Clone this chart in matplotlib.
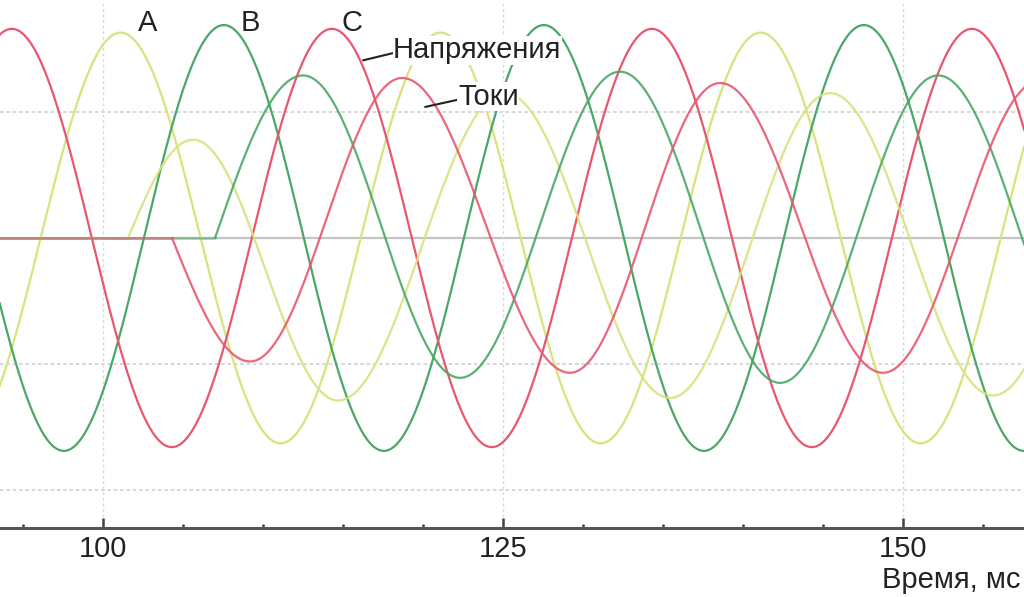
import numpy as np
import matplotlib
matplotlib.use("Agg")
import matplotlib.pyplot as plt

plt.rcParams['font.family'] = ['Liberation Sans', 'DejaVu Sans']

# ---- data ----
phases = ['A', 'B', 'C']
colors = ['#d9e27c', '#4aa866', '#e8566f']
period_ms = 20.0
# voltage: amplitude (grid units) and time of a peak (ms)
volt_amp = [1.63, 1.69, 1.66]
volt_peak_t = [101.1, 107.55, 94.3]
# current: switch-on time and successive extrema (time ms, value)
cur_onset = [101.56, 107.0, 104.31]
cur_ext_t_A = [105.63, 114.69, 125.13, 135.44, 145.44, 155.63, 165.75]
cur_ext_v_A = [0.78, -1.29, 1.15, -1.27, 1.15, -1.25, 1.15]
cur_ext_t_B = [112.5, 122.31, 132.31, 142.31, 152.19, 162.31]
cur_ext_v_B = [1.29, -1.11, 1.32, -1.15, 1.29, -1.15]
cur_ext_t_C = [109.19, 118.69, 129.19, 138.56, 148.75, 158.56]
cur_ext_v_C = [-0.98, 1.27, -1.07, 1.23, -1.07, 1.25]
cur_ext_t = [cur_ext_t_A, cur_ext_t_B, cur_ext_t_C]
cur_ext_v = [cur_ext_v_A, cur_ext_v_B, cur_ext_v_C]

x_ticks_major = [100, 125, 150]
x_label = 'Время, мс'
lbl_volt = 'Напряжения'
lbl_cur = 'Токи'

t = np.linspace(93.5, 157.7, 3000)


def current_trace(tt, onset, et, ev):
    y = np.zeros_like(tt)
    m = (tt >= onset) & (tt < et[0])
    y[m] = ev[0] * np.sin(np.pi / 2 * (tt[m] - onset) / (et[0] - onset))
    for i in range(len(et) - 1):
        t0, t1, v0, v1 = et[i], et[i + 1], ev[i], ev[i + 1]
        m = (tt >= t0) & (tt < t1)
        y[m] = (v0 + v1) / 2 + (v0 - v1) / 2 * np.cos(np.pi * (tt[m] - t0) / (t1 - t0))
    return y


fig = plt.figure(figsize=(10.24, 5.97), dpi=100)
ax = fig.add_axes([0, 1 - 528 / 597, 1, 528 / 597])
ax.set_xlim(93.56, 157.56)
ax.set_ylim(-2.302, 1.889)

# grid
for yv in [1, -1, -2]:
    ax.axhline(yv, color='#d4d4d4', lw=1.3, ls=(0, (2, 1.5)), zorder=0)
ax.axhline(0, color='#c4c4c4', lw=1.6, zorder=0)
for xv in x_ticks_major:
    ax.axvline(xv, color='#d8d8d8', lw=1.0, ls=(0, (2, 2)), zorder=0)

for i in range(3):
    v = volt_amp[i] * np.cos(2 * np.pi * (t - volt_peak_t[i]) / period_ms)
    ax.plot(t, v, color=colors[i], lw=1.6, zorder=2)
for i in range(3):
    c = current_trace(t, cur_onset[i], cur_ext_t[i], cur_ext_v[i])
    pre = t <= cur_onset[i]
    post = t >= cur_onset[i]
    ax.plot(t[pre], c[pre], color=colors[i], lw=1.8, alpha=0.55, zorder=2)
    ax.plot(t[post], c[post], color=colors[i], lw=1.6, alpha=0.9, zorder=2)

# phase labels above voltage peaks
lab_x = [102.81, 109.19, 115.56]
for i in range(3):
    ax.text(lab_x[i], 1.71, phases[i], fontsize=21, ha='center', va='center', color='#222222')

ax.annotate(lbl_volt, xy=(116.25, 1.41), xytext=(118.13, 1.49), fontsize=21,
            ha='left', va='center', color='#222222',
            bbox=dict(fc='white', ec='none', pad=0.5),
            arrowprops=dict(arrowstyle='-', color='#222222', lw=1.5,
                            shrinkA=0, shrinkB=0, relpos=(0, 0.4)))
ax.annotate(lbl_cur, xy=(120.13, 1.04), xytext=(122.19, 1.12), fontsize=21,
            ha='left', va='center', color='#222222',
            bbox=dict(fc='white', ec='none', pad=0.5),
            arrowprops=dict(arrowstyle='-', color='#222222', lw=1.5,
                            shrinkA=0, shrinkB=0, relpos=(0, 0.4)))

# axes styling
for s in ['top', 'left', 'right']:
    ax.spines[s].set_visible(False)
ax.spines['bottom'].set_color('#555555')
ax.spines['bottom'].set_linewidth(2.2)
ax.set_yticks([])
ax.set_xticks(x_ticks_major)
ax.set_xticks(np.arange(95, 157, 5), minor=True)
ax.tick_params(axis='x', which='major', direction='in', length=7, width=1.8,
               color='#444444', labelsize=21, pad=5, labelcolor='#222222')
ax.tick_params(axis='x', which='minor', direction='in', length=3, width=1.8,
               color='#444444')
ax.set_facecolor('white')

fig.text(1020 / 1024, 1 - 580 / 597, x_label, fontsize=21, ha='right', va='center',
         color='#222222')

fig.savefig('out.png', dpi=100)
